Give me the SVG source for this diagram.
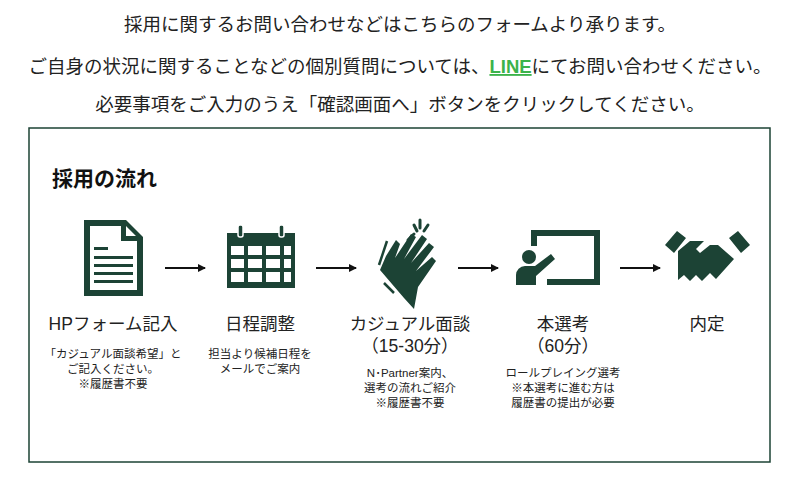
<svg xmlns="http://www.w3.org/2000/svg" width="800" height="486" viewBox="0 0 800 486">
<style>
text{font-family:"Liberation Sans","Noto Sans CJK JP",sans-serif;fill:#222;text-anchor:middle}
.h{font-size:18.5px}
.t{font-size:17.5px}
.s{font-size:11.5px}
.i{fill:#1c4335}
.a{stroke:#111;stroke-width:2;fill:none}
</style>
<defs><marker id="m" markerWidth="8" markerHeight="8" refX="7" refY="4" orient="auto" markerUnits="userSpaceOnUse"><path d="M0,0L8,4L0,8z" fill="#111"/></marker></defs>
<rect width="800" height="486" fill="#fff"/>
<text class="h" x="400" y="31">採用に関するお問い合わせなどはこちらのフォームより承ります。</text>
<text class="h" x="400" y="73">ご自身の状況に関することなどの個別質問については、<tspan style="fill:#3bb34a;text-decoration:underline;font-weight:bold">LINE</tspan>にてお問い合わせください。</text>
<text class="h" x="400" y="111">必要事項をご入力のうえ「確認画面へ」ボタンをクリックしてください。</text>
<rect x="29" y="128" width="741" height="334" fill="none" stroke="#1c4335" stroke-width="1.5"/>
<text x="52" y="186" style="font-size:21px;font-weight:bold;text-anchor:start;fill:#111">採用の流れ</text>
<g id="connectors">
<line class="a" x1="165" y1="268" x2="205" y2="268" marker-end="url(#m)"/>
<line class="a" x1="316" y1="268" x2="356" y2="268" marker-end="url(#m)"/>
<line class="a" x1="458" y1="268" x2="498" y2="268" marker-end="url(#m)"/>
<line class="a" x1="620" y1="268" x2="660" y2="268" marker-end="url(#m)"/>
</g>
<g id="n1">
<path class="i" d="M84,220h42l17,17v59h-59z M90,226v64h47v-49h-16v-15z M126,226v10h10z" fill-rule="evenodd"/>
<rect class="i" x="94" y="247" width="14" height="3"/>
<rect class="i" x="94" y="256" width="39" height="3"/><rect class="i" x="94" y="264" width="39" height="3"/><rect class="i" x="94" y="272" width="39" height="3"/><rect class="i" x="94" y="280" width="39" height="3"/>
<text class="t" x="113" y="330">HPフォーム記入</text>
<text class="s" x="113" y="358">「カジュアル面談希望」と</text>
<text class="s" x="113" y="373">ご記入ください。</text>
<text class="s" x="113" y="388">※履歴書不要</text>
</g>
<g id="n2">
<path class="i" d="M227,233h68v55h-68z M231,246v9h13v-9z M248,246v9h14v-9z M266,246v9h14v-9z M284,246v9h7v-9z M231,259v9h13v-9z M248,259v9h14v-9z M266,259v9h14v-9z M284,259v9h7v-9z M231,272v10h13v-10z M248,272v10h14v-10z M266,272v10h14v-10z M284,272v10h7v-10z" fill-rule="evenodd"/>
<rect x="238" y="225" width="5" height="12" rx="2" fill="#1c4335" stroke="#fff" stroke-width="1.5"/>
<rect x="279" y="225" width="5" height="12" rx="2" fill="#1c4335" stroke="#fff" stroke-width="1.5"/>
<text class="t" x="260" y="330">日程調整</text>
<text class="s" x="260" y="358">担当より候補日程を</text>
<text class="s" x="260" y="373">メールでご案内</text>
</g>
<g id="n3">
<path class="i" d="M404,298l-24,-28l6,-14l10,-16l4,4l-5,14l16,-24l5,3l-12,22l18,-24l5,4l-16,24l18,-20l5,4l-18,24l16,-14l4,4l-18,26l-4,22z"/>
<path d="M379,265l8,-24M384,283l10,10" stroke="#1c4335" stroke-width="2.5" fill="none"/>
<path d="M414,225l3,6M420,220v8M428,225l-4,6M408,240l6,-6" stroke="#1c4335" stroke-width="3" stroke-linecap="round"/>
<text class="t" x="410" y="330">カジュアル面談</text>
<text class="t" x="410" y="352">（15-30分）</text>
<text class="s" x="410" y="377">N･Partner案内、</text>
<text class="s" x="410" y="392">選考の流れご紹介</text>
<text class="s" x="410" y="407">※履歴書不要</text>
</g>
<g id="n4">
<path class="i" d="M531,230h69v55h-53v-6h47v-43h-57v10h-6z"/>
<circle class="i" cx="529" cy="257" r="7"/>
<path class="i" d="M516,285v-10a9,9 0 0 1 9,-9h10l16,-12l4,5l-19,17v9z"/>
<text class="t" x="563" y="330">本選考</text>
<text class="t" x="563" y="352">（60分）</text>
<text class="s" x="563" y="377">ロールプレイング選考</text>
<text class="s" x="563" y="392">※本選考に進む方は</text>
<text class="s" x="563" y="407">履歴書の提出が必要</text>
</g>
<g id="n5">
<path class="i" d="M665,245l12,-14l9,7l-12,15z M750,245l-12,-14l-9,7l12,15z"/>
<path class="i" d="M678,251l12,-10h14l-8,8l4,4l10,-8h8l16,14l-18,20l-6,-6l-8,8l-6,-6l-6,6l-6,-6l-6,5z"/>
<text class="t" x="707" y="330">内定</text>
</g>
</svg>
